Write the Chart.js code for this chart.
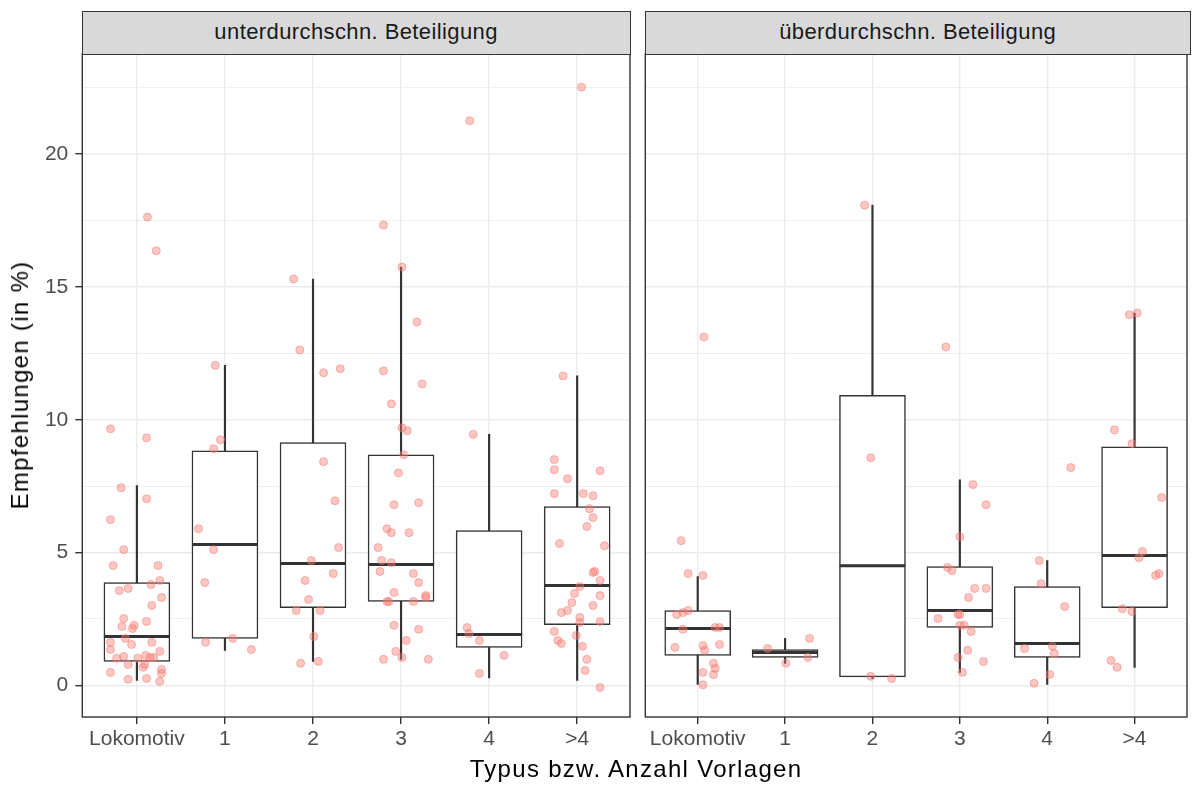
<!DOCTYPE html>
<html>
<head>
<meta charset="utf-8">
<script src="https://cdn.jsdelivr.net/npm/chart.js@4.4.1/dist/chart.umd.min.js"></script>
<style>
  html, body { margin: 0; padding: 0; background: #fff; }
  #wrap { position: relative; width: 1192px; height: 787px; overflow: hidden; font-family: "Liberation Sans", Arial, sans-serif; }
  canvas { position: absolute; top: 0; }
  #cLeft { left: 0; }
  #cRight { left: 637px; }
  .strip { position: absolute; top: 11.3px; height: 43.4px; box-sizing: border-box; border: 1.4px solid #333; background: #d9d9d9;
           color: #1a1a1a; font-size: 22px; letter-spacing: 0.4px; line-height: 40px; text-align: center; }
  #stripL { left: 81.6px; width: 549.1px; }
  #stripR { left: 644.6px; width: 546.1px; }
  .xtitle { position: absolute; left: 82px; width: 1108px; top: 755px; line-height: 28px; text-align: center; font-size: 24px; letter-spacing: 1.3px; color: #000; }
  .ytitle { position: absolute; left: 19.7px; top: 385px; line-height: 28px; transform: translate(-50%, -50%) rotate(-90deg);
            white-space: nowrap; font-size: 24px; letter-spacing: 1.3px; color: #000; }
</style>
</head>
<body>
<div id="wrap">
  <canvas id="cLeft" width="637" height="787"></canvas>
  <canvas id="cRight" width="555" height="787"></canvas>
  <div class="strip" id="stripL"></div>
  <div class="strip" id="stripR"></div>
  <div class="ytitle">Empfehlungen (in %)</div>
  <div class="xtitle">Typus bzw. Anzahl Vorlagen</div>
</div>
<script>
const categories = ['Lokomotiv', '1', '2', '3', '4', '>4'];
const panelTitles = ['unterdurchschn. Beteiligung', 'überdurchschn. Beteiligung'];
const yTickValues = [0, 2.5, 5, 7.5, 10, 12.5, 15, 17.5, 20, 22.5];

// Boxplot-Kennzahlen, unterdurchschnittliche Beteiligung
const unterLow  = [0.19, 1.32, 0.90, 0.98, 0.28, 0.19];
const unterQ1   = [0.90, 1.77, 2.93, 3.16, 1.43, 2.29];
const unterMed  = [1.84, 5.30, 4.59, 4.55, 1.92, 3.76];
const unterQ3   = [3.87, 8.83, 9.14, 8.68, 5.83, 6.73];
const unterHigh = [7.52, 12.05, 15.30, 15.75, 9.45, 11.65];

// Boxplot-Kennzahlen, überdurchschnittliche Beteiligung
const ueberLow  = [0.04, 0.83, 0.26, 0.49, 0.04, 0.68];
const ueberQ1   = [1.13, 1.05, 0.32, 2.18, 1.05, 2.93];
const ueberMed  = [2.14, 1.24, 4.50, 2.82, 1.58, 4.89];
const ueberQ3   = [2.82, 1.35, 10.92, 4.47, 3.72, 8.98];
const ueberHigh = [4.10, 1.77, 18.08, 7.74, 4.70, 14.02];

// Einzelwerte als [Jitter, Wert]
const unterLokomotiv = [[-0.30,9.66],[0.11,9.32],[-0.18,7.44],[0.11,7.03],[-0.30,6.24],[-0.15,5.11],[-0.27,4.51],[0.24,4.51],
  [0.26,3.95],[0.16,3.80],[-0.20,3.57],[-0.10,3.65],[0.28,3.31],[0.17,3.01],[-0.15,2.52],[-0.17,2.22],[-0.03,2.26],[-0.05,2.14],
  [0.11,2.41],[-0.13,1.77],[-0.30,1.62],[-0.06,1.54],[0.17,1.62],[-0.30,1.35],[0.26,1.28],[-0.23,1.02],[-0.15,1.09],[0.01,1.02],
  [0.10,1.13],[0.15,1.05],[0.19,1.05],[-0.10,0.79],[0.09,0.79],[0.07,0.68],[-0.30,0.49],[0.28,0.60],[0.28,0.45],[-0.10,0.23],
  [0.11,0.26],[0.26,0.15],[0.12,17.63],[0.22,16.36]];
const unterEins = [[-0.05,9.25],[-0.13,8.91],[-0.30,5.90],[-0.13,5.11],[-0.23,3.87],[-0.22,1.62],[0.09,1.77],[0.30,1.35],[-0.11,12.05]];
const unterZwei = [[-0.22,15.30],[-0.15,12.63],[0.12,11.77],[0.31,11.92],[0.12,8.42],[0.25,6.95],[0.29,5.19],[-0.02,4.70],
  [0.23,4.21],[-0.09,3.95],[-0.05,3.23],[-0.19,2.82],[0.08,2.82],[0.01,1.84],[-0.14,0.83],[0.06,0.90]];
const unterDrei = [[0.01,15.75],[0.18,13.68],[-0.20,11.84],[0.24,11.35],[-0.11,10.60],[0.01,9.70],[0.07,9.59],[0.03,8.68],
  [-0.03,8.00],[-0.08,6.80],[0.20,6.88],[-0.16,5.90],[-0.11,5.75],[0.09,5.75],[-0.26,5.19],[-0.22,4.70],[-0.11,4.62],[-0.24,4.29],
  [0.14,4.21],[0.20,3.87],[-0.08,3.50],[-0.16,3.16],[-0.14,3.16],[0.14,3.16],[0.28,3.38],[0.28,3.31],[-0.08,2.26],[0.20,2.11],
  [0.06,1.69],[-0.06,1.28],[0.01,1.05],[-0.20,0.98],[0.31,0.98],[-0.20,17.33]];
const unterVier = [[-0.18,9.45],[-0.25,2.18],[-0.23,1.95],[-0.11,1.69],[0.17,1.13],[-0.11,0.45],[-0.22,21.26]];
const unterMehr = [[-0.16,11.65],[-0.26,8.50],[-0.26,8.12],[0.26,8.08],[-0.11,7.78],[-0.26,7.22],[0.07,7.22],[0.18,7.14],
  [0.14,6.65],[0.18,6.32],[0.11,5.98],[-0.20,5.34],[0.31,5.26],[0.18,4.25],[0.20,4.29],[0.26,3.95],[0.03,3.72],[-0.03,3.46],
  [-0.06,3.12],[0.26,3.38],[0.18,3.01],[-0.11,2.82],[-0.18,2.74],[0.03,2.56],[0.03,2.37],[0.26,2.41],[-0.26,2.03],[-0.01,1.88],
  [-0.22,1.69],[-0.18,1.58],[0.06,1.47],[0.11,0.98],[0.09,0.56],[0.26,-0.08],[0.05,22.52]];

const ueberLokomotiv = [[-0.19,5.45],[-0.11,4.21],[0.06,4.14],[-0.24,2.67],[-0.17,2.74],[-0.11,2.82],[-0.17,2.11],[0.20,2.18],
  [0.25,2.18],[-0.26,1.43],[0.06,1.50],[0.08,1.32],[0.25,1.54],[0.18,0.83],[0.20,0.64],[0.06,0.49],[0.18,0.41],[0.06,0.02],[0.07,13.12]];
const ueberEins = [[-0.20,1.39],[0.28,1.77],[0.26,1.05],[0.01,0.83]];
const ueberZwei = [[-0.09,18.08],[-0.02,8.57],[-0.02,0.34],[0.22,0.26]];
const ueberDrei = [[0.15,7.56],[0.30,6.80],[0.00,5.60],[-0.14,4.44],[-0.09,4.32],[0.17,3.65],[0.30,3.65],[0.10,3.31],[-0.02,2.67],
  [0.00,2.67],[-0.25,2.52],[0.00,2.26],[0.05,2.26],[0.13,2.03],[0.09,1.32],[-0.02,1.05],[0.27,0.90],[0.03,0.49],[-0.16,12.74]];
const ueberVier = [[0.27,8.20],[-0.09,4.70],[-0.07,3.83],[0.20,2.97],[-0.26,1.39],[0.06,1.47],[0.08,1.20],[0.03,0.41],[-0.15,0.08]];
const ueberMehr = [[-0.06,13.95],[0.03,14.02],[-0.23,9.62],[-0.03,9.10],[0.31,7.07],[0.09,5.04],[0.05,4.81],[0.24,4.14],
  [0.28,4.21],[-0.14,2.89],[-0.03,2.78],[-0.27,0.94],[-0.20,0.68]];

document.getElementById('stripL').textContent = panelTitles[0];
document.getElementById('stripR').textContent = panelTitles[1];

const FONT = '"Liberation Sans", Arial, sans-serif';
const GRID = '#ebebeb';
const DARK = '#333333';

// Rahmen um das Panel (theme_bw)
const panelBorder = {
  id: 'panelBorder',
  afterDraw(chart) {
    const { ctx, chartArea: a } = chart;
    ctx.save();
    ctx.strokeStyle = DARK;
    ctx.lineWidth = 1.4;
    ctx.strokeRect(a.left, a.top, a.right - a.left, a.bottom - a.top);
    ctx.restore();
  }
};

function makePanel(canvasId, groups, low, q1, med, q3, high, opts) {
  const whiskers = categories.map((c, i) => ({ x: i + 1, y: [low[i], high[i]] }));
  const boxes = categories.map((c, i) => ({ x: i + 1, y: [q1[i], q3[i]] }));
  const medians = [];
  categories.forEach((c, i) => {
    medians.push({ x: i + 1 - 0.375, y: med[i] }, { x: i + 1 + 0.375, y: med[i] }, { x: i + 1.5, y: null });
  });
  const points = [];
  groups.forEach((g, i) => g.forEach(p => points.push({ x: i + 1 + p[0], y: p[1] })));

  return new Chart(document.getElementById(canvasId), {
    type: 'scatter',
    data: {
      datasets: [
        { type: 'scatter', data: points, order: 1,
          pointRadius: 4, pointHoverRadius: 4, borderWidth: 1,
          backgroundColor: 'rgba(248,118,109,0.42)', borderColor: 'rgba(248,118,109,0.5)' },
        { type: 'line', data: medians, order: 2, spanGaps: false,
          borderColor: DARK, borderWidth: 3, pointRadius: 0, borderCapStyle: 'butt' },
        { type: 'bar', data: boxes, order: 3, grouped: false, barThickness: 66,
          backgroundColor: '#ffffff', borderColor: DARK, borderWidth: 1.5, borderSkipped: false },
        { type: 'bar', data: whiskers, order: 4, grouped: false, barThickness: 1.5,
          backgroundColor: DARK, borderWidth: 0 }
      ]
    },
    options: {
      responsive: false,
      animation: false,
      events: [],
      layout: { padding: opts.padding },
      plugins: { legend: { display: false }, tooltip: { enabled: false } },
      scales: {
        x: {
          type: 'linear', min: opts.xMin, max: opts.xMax, offset: false,
          afterBuildTicks: s => { s.ticks = categories.map((c, i) => ({ value: i + 1 })); },
          afterFit: s => { s.height = 70; s.paddingLeft = 0; s.paddingRight = 0; },
          border: { display: false },
          grid: { color: GRID, lineWidth: 1.4, tickColor: DARK, tickWidth: 1.4, tickLength: 7, offset: false },
          ticks: { autoSkip: false, maxRotation: 0, minRotation: 0, padding: 3,
                   color: '#4d4d4d', font: { family: FONT, size: 21 },
                   callback: (v, i) => categories[i] }
        },
        y: {
          type: 'linear', min: -1.19, max: 23.77,
          afterBuildTicks: s => { s.ticks = yTickValues.map(v => ({ value: v })); },
          afterFit: s => { s.width = opts.yWidth; s.paddingTop = 0; s.paddingBottom = 0; },
          border: { display: false },
          grid: {
            color: GRID,
            lineWidth: c => (c.tick && c.tick.value % 5 === 0) ? 1.4 : 0.8,
            drawTicks: opts.showY,
            tickColor: c => (c.tick && c.tick.value % 5 === 0) ? DARK : 'rgba(0,0,0,0)',
            tickWidth: 1.4, tickLength: 7
          },
          ticks: { display: opts.showY, autoSkip: false, padding: 7,
                   color: '#4d4d4d', font: { family: FONT, size: 21 },
                   callback: v => (v % 5 === 0 ? String(v) : '') }
        }
      }
    },
    plugins: [panelBorder]
  });
}

makePanel('cLeft',
  [unterLokomotiv, unterEins, unterZwei, unterDrei, unterVier, unterMehr],
  unterLow, unterQ1, unterMed, unterQ3, unterHigh,
  { padding: { left: 0, right: 7, top: 54, bottom: 0 }, yWidth: 82.3, showY: true, xMin: 0.38, xMax: 6.6 });

makePanel('cRight',
  [ueberLokomotiv, ueberEins, ueberZwei, ueberDrei, ueberVier, ueberMehr],
  ueberLow, ueberQ1, ueberMed, ueberQ3, ueberHigh,
  { padding: { left: 8.3, right: 2, top: 54, bottom: 0 }, yWidth: 0, showY: false, xMin: 0.4, xMax: 6.6 });
</script>
</body>
</html>
